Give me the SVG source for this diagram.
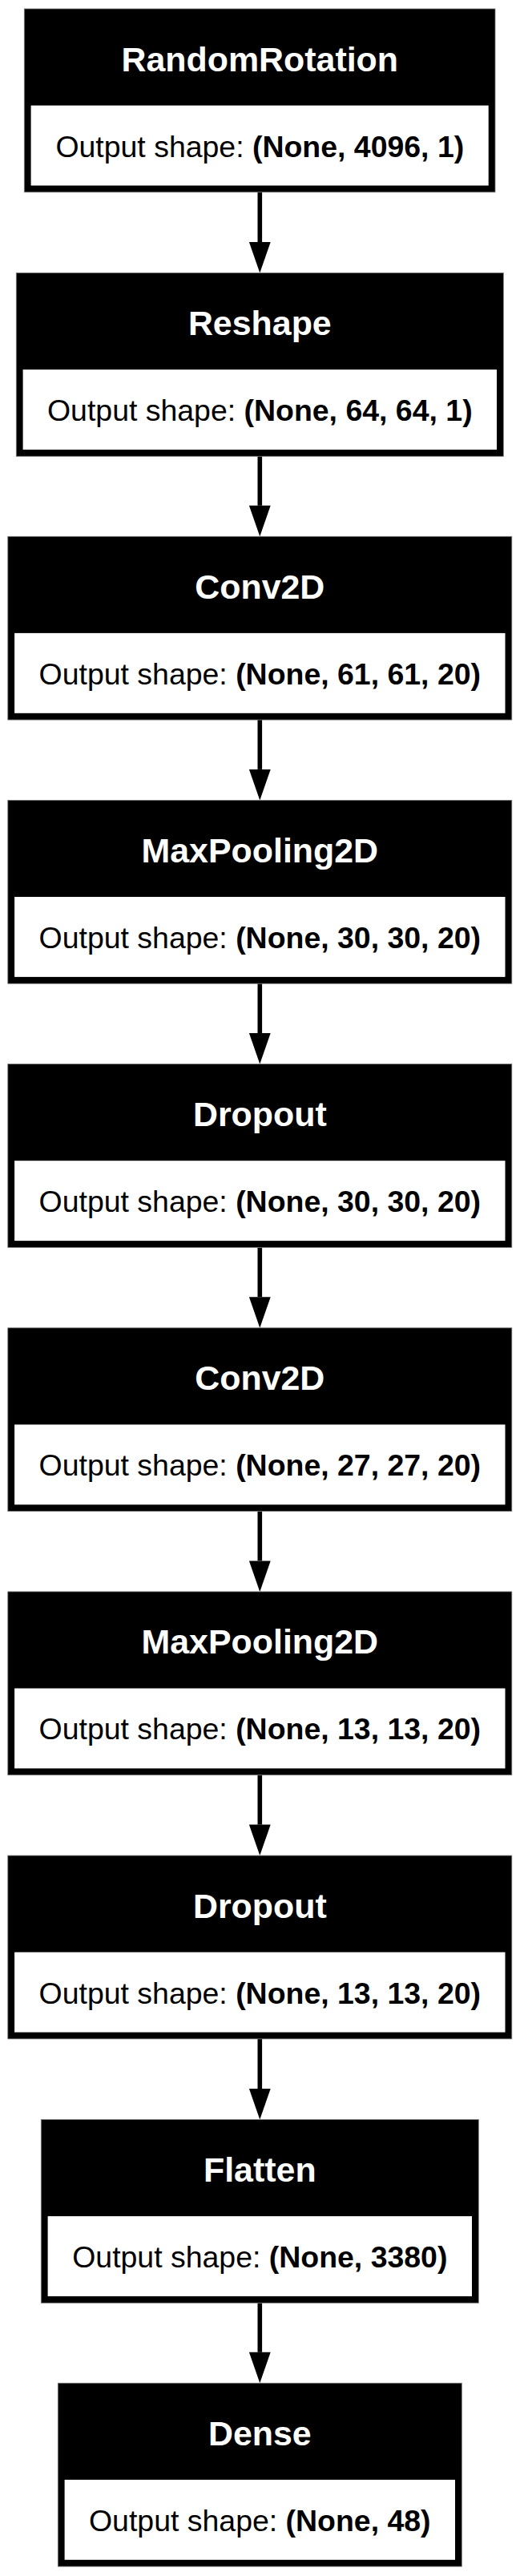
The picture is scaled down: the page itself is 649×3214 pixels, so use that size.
<svg xmlns="http://www.w3.org/2000/svg" width="649" height="3214" viewBox="0 0 649 3214">
<style>
.outer{fill:#000;stroke:#777;stroke-width:0.8}
.inner{fill:#fff}
.title{font-family:"Liberation Sans",Arial,Helvetica,sans-serif;font-size:42.9px;font-weight:bold;fill:#fff;text-anchor:middle}
.shape{font-family:"Liberation Sans",Arial,Helvetica,sans-serif;font-size:37.45px;fill:#000;text-anchor:middle}
.b{font-weight:bold}
.edge{stroke:#000;stroke-width:5.6;fill:none}
.head{fill:#000;stroke:none}
</style>
<rect width="649" height="3214" fill="#fff"/>
<g id="connectors">
<line class="edge" x1="324.3" y1="239.8" x2="324.3" y2="302"/><polygon class="head" points="310.9,302 337.7,302 324.3,340.5"/>
<line class="edge" x1="324.3" y1="569.3" x2="324.3" y2="630.8"/><polygon class="head" points="310.9,630.8 337.7,630.8 324.3,669.3"/>
<line class="edge" x1="324.3" y1="898.1" x2="324.3" y2="959.9"/><polygon class="head" points="310.9,959.9 337.7,959.9 324.3,998.4"/>
<line class="edge" x1="324.3" y1="1227.2" x2="324.3" y2="1289.1"/><polygon class="head" points="310.9,1289.1 337.7,1289.1 324.3,1327.6"/>
<line class="edge" x1="324.3" y1="1556.4" x2="324.3" y2="1618.3"/><polygon class="head" points="310.9,1618.3 337.7,1618.3 324.3,1656.8"/>
<line class="edge" x1="324.3" y1="1885.6" x2="324.3" y2="1947.4"/><polygon class="head" points="310.9,1947.4 337.7,1947.4 324.3,1985.9"/>
<line class="edge" x1="324.3" y1="2214.7" x2="324.3" y2="2276.6"/><polygon class="head" points="310.9,2276.6 337.7,2276.6 324.3,2315.1"/>
<line class="edge" x1="324.3" y1="2543.9" x2="324.3" y2="2606"/><polygon class="head" points="310.9,2606 337.7,2606 324.3,2644.5"/>
<line class="edge" x1="324.3" y1="2873.3" x2="324.3" y2="2934.8"/><polygon class="head" points="310.9,2934.8 337.7,2934.8 324.3,2973.3"/>
</g>
<g id="node1">
<rect class="outer" x="30.3" y="11" width="587.7" height="228.8"/>
<rect class="inner" x="38.6" y="131.6" width="571.1" height="99.9"/>
<text class="title" x="324.3" y="88.5">RandomRotation</text>
<text class="shape" x="324.3" y="195.5">Output shape: <tspan class="b">(None, 4096, 1)</tspan></text>
</g>
<g id="node2">
<rect class="outer" x="20.3" y="340.5" width="608" height="228.8"/>
<rect class="inner" x="28.6" y="461.1" width="591.4" height="99.9"/>
<text class="title" x="324.3" y="418">Reshape</text>
<text class="shape" x="324.3" y="525">Output shape: <tspan class="b">(None, 64, 64, 1)</tspan></text>
</g>
<g id="node3">
<rect class="outer" x="9.8" y="669.3" width="629" height="228.8"/>
<rect class="inner" x="18.1" y="789.9" width="612.4" height="99.9"/>
<text class="title" x="324.3" y="746.8">Conv2D</text>
<text class="shape" x="324.3" y="853.8">Output shape: <tspan class="b">(None, 61, 61, 20)</tspan></text>
</g>
<g id="node4">
<rect class="outer" x="9.8" y="998.4" width="629" height="228.8"/>
<rect class="inner" x="18.1" y="1119" width="612.4" height="99.9"/>
<text class="title" x="324.3" y="1075.9">MaxPooling2D</text>
<text class="shape" x="324.3" y="1182.9">Output shape: <tspan class="b">(None, 30, 30, 20)</tspan></text>
</g>
<g id="node5">
<rect class="outer" x="9.8" y="1327.6" width="629" height="228.8"/>
<rect class="inner" x="18.1" y="1448.2" width="612.4" height="99.9"/>
<text class="title" x="324.3" y="1405.1">Dropout</text>
<text class="shape" x="324.3" y="1512.1">Output shape: <tspan class="b">(None, 30, 30, 20)</tspan></text>
</g>
<g id="node6">
<rect class="outer" x="9.8" y="1656.8" width="629" height="228.8"/>
<rect class="inner" x="18.1" y="1777.4" width="612.4" height="99.9"/>
<text class="title" x="324.3" y="1734.3">Conv2D</text>
<text class="shape" x="324.3" y="1841.3">Output shape: <tspan class="b">(None, 27, 27, 20)</tspan></text>
</g>
<g id="node7">
<rect class="outer" x="9.8" y="1985.9" width="629" height="228.8"/>
<rect class="inner" x="18.1" y="2106.5" width="612.4" height="99.9"/>
<text class="title" x="324.3" y="2063.4">MaxPooling2D</text>
<text class="shape" x="324.3" y="2170.4">Output shape: <tspan class="b">(None, 13, 13, 20)</tspan></text>
</g>
<g id="node8">
<rect class="outer" x="9.8" y="2315.1" width="629" height="228.8"/>
<rect class="inner" x="18.1" y="2435.7" width="612.4" height="99.9"/>
<text class="title" x="324.3" y="2392.6">Dropout</text>
<text class="shape" x="324.3" y="2499.6">Output shape: <tspan class="b">(None, 13, 13, 20)</tspan></text>
</g>
<g id="node9">
<rect class="outer" x="51.3" y="2644.5" width="546" height="228.8"/>
<rect class="inner" x="59.6" y="2765.1" width="529.4" height="99.9"/>
<text class="title" x="324.3" y="2722">Flatten</text>
<text class="shape" x="324.3" y="2829">Output shape: <tspan class="b">(None, 3380)</tspan></text>
</g>
<g id="node10">
<rect class="outer" x="72.3" y="2973.3" width="504" height="228.8"/>
<rect class="inner" x="80.6" y="3093.9" width="487.4" height="99.9"/>
<text class="title" x="324.3" y="3050.8">Dense</text>
<text class="shape" x="324.3" y="3157.8">Output shape: <tspan class="b">(None, 48)</tspan></text>
</g>
</svg>
